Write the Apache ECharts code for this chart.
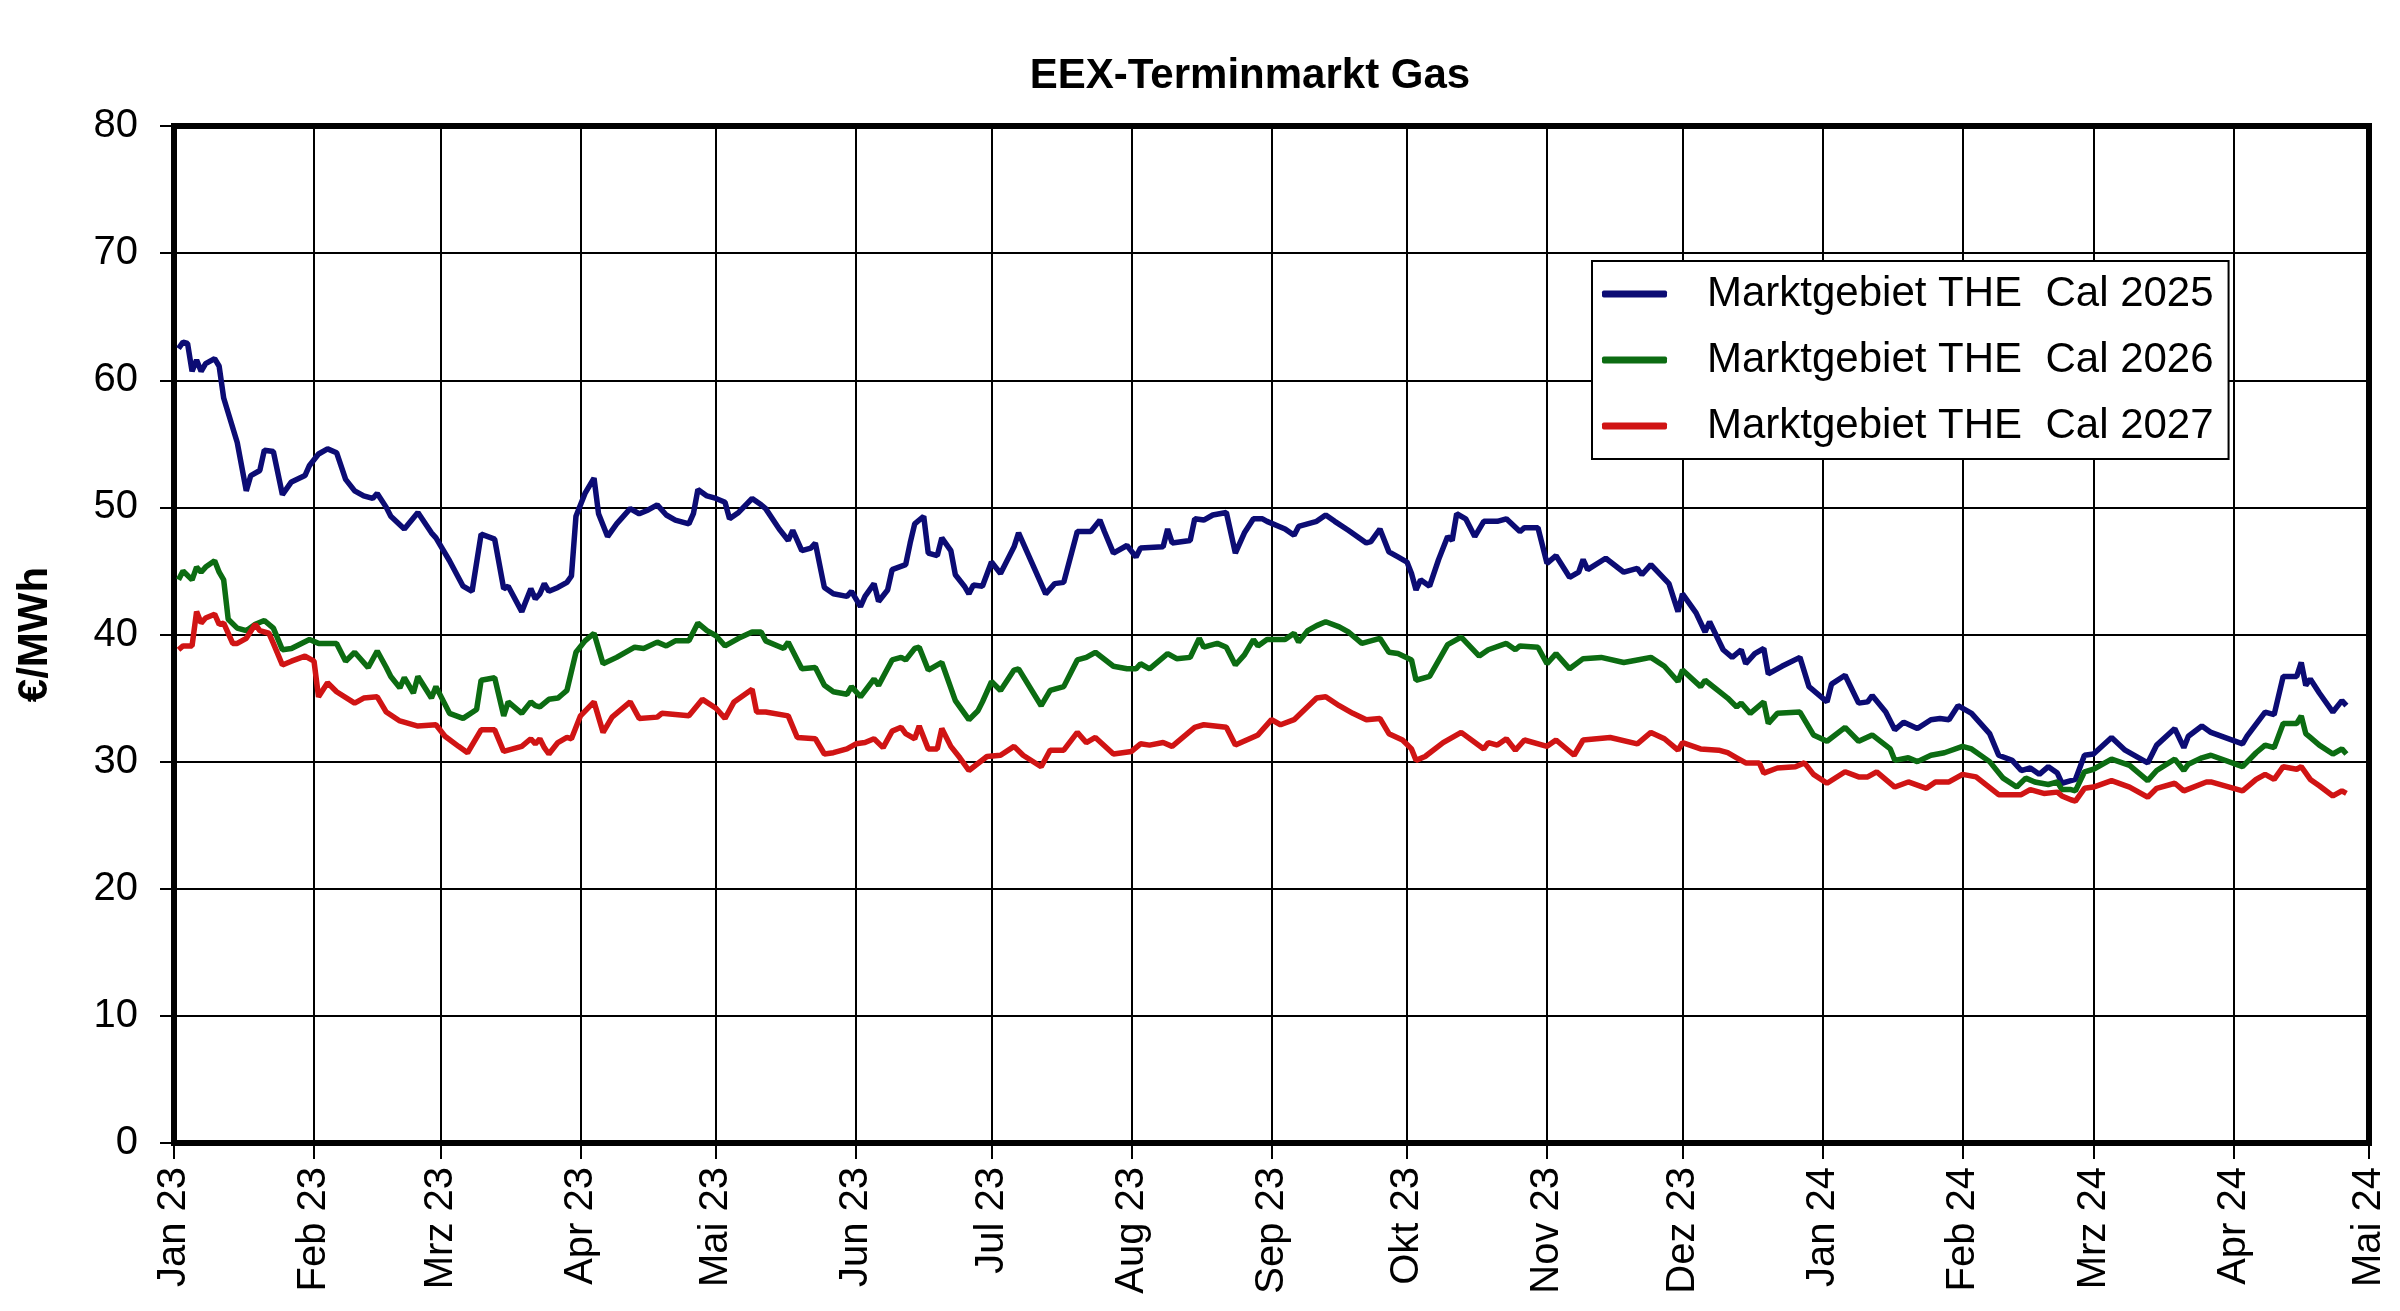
<!DOCTYPE html>
<html>
<head>
<meta charset="utf-8">
<title>EEX-Terminmarkt Gas</title>
<script src="https://cdn.jsdelivr.net/npm/echarts@6.0.0/dist/echarts.min.js"></script>
<style>
  html, body { margin: 0; padding: 0; background: #fff; }
  #chart { width: 2400px; height: 1311px; }
</style>
</head>
<body>
<div id="chart"></div>
<script>
// month names as printed on the x axis
var monthLabels = ['Jan', 'Feb', 'Mrz', 'Apr', 'Mai', 'Jun', 'Jul', 'Aug', 'Sep', 'Okt', 'Nov', 'Dez'];
var xStart = '2023-01-01';
var xEnd = '2024-05-01';
var yMin = 0, yMax = 80, yStep = 10;

var seriesNames = ['Marktgebiet THE  Cal 2025', 'Marktgebiet THE  Cal 2026', 'Marktgebiet THE  Cal 2027'];
var seriesColors = ['#0c0c74', '#0c6c12', '#d01414'];

// Cal 2025 (€/MWh)
var cal2025 = [
  ['2023-01-02',62.5],['2023-01-03',63.0],['2023-01-04',62.9],['2023-01-05',60.7],['2023-01-06',61.6],['2023-01-07',60.7],
  ['2023-01-08',61.3],['2023-01-10',61.7],['2023-01-11',61.1],['2023-01-12',58.6],['2023-01-15',55.1],['2023-01-17',51.3],
  ['2023-01-18',52.5],['2023-01-20',52.9],['2023-01-21',54.5],['2023-01-23',54.4],['2023-01-25',51.0],['2023-01-27',52.0],
  ['2023-01-30',52.5],['2023-01-31',53.3],['2023-02-02',54.2],['2023-02-04',54.6],['2023-02-06',54.3],['2023-02-08',52.2],
  ['2023-02-10',51.3],['2023-02-12',50.9],['2023-02-14',50.7],['2023-02-15',51.1],['2023-02-17',50.0],['2023-02-18',49.3],
  ['2023-02-21',48.3],['2023-02-24',49.6],['2023-02-27',48.0],['2023-02-28',47.6],['2023-03-03',45.8],['2023-03-06',43.8],
  ['2023-03-08',43.4],['2023-03-10',47.9],['2023-03-13',47.5],['2023-03-15',43.6],['2023-03-16',43.8],['2023-03-19',41.8],
  ['2023-03-21',43.6],['2023-03-22',42.8],['2023-03-23',43.2],['2023-03-24',44.0],['2023-03-25',43.4],['2023-03-27',43.7],
  ['2023-03-29',44.1],['2023-03-30',44.6],['2023-03-31',49.3],['2023-04-02',51.1],['2023-04-04',52.3],['2023-04-05',49.5],
  ['2023-04-07',47.7],['2023-04-09',48.7],['2023-04-12',49.9],['2023-04-14',49.5],['2023-04-16',49.8],['2023-04-18',50.2],
  ['2023-04-20',49.4],['2023-04-22',49.0],['2023-04-25',48.7],['2023-04-26',49.5],['2023-04-27',51.4],['2023-04-29',50.9],
  ['2023-05-01',50.7],['2023-05-03',50.4],['2023-05-04',49.1],['2023-05-06',49.6],['2023-05-09',50.7],['2023-05-11',50.2],
  ['2023-05-12',49.9],['2023-05-15',48.3],['2023-05-17',47.4],['2023-05-18',48.2],['2023-05-20',46.6],['2023-05-22',46.8],
  ['2023-05-23',47.2],['2023-05-25',43.7],['2023-05-27',43.2],['2023-05-30',43.0],['2023-05-31',43.4],['2023-06-02',42.2],
  ['2023-06-03',43.0],['2023-06-05',44.0],['2023-06-06',42.6],['2023-06-08',43.5],['2023-06-09',45.1],['2023-06-12',45.5],
  ['2023-06-13',47.2],['2023-06-14',48.7],['2023-06-16',49.3],['2023-06-17',46.4],['2023-06-19',46.2],['2023-06-20',47.6],
  ['2023-06-22',46.6],['2023-06-23',44.7],['2023-06-25',43.8],['2023-06-26',43.2],['2023-06-27',43.9],['2023-06-29',43.8],
  ['2023-07-01',45.7],['2023-07-03',44.8],['2023-07-06',46.9],['2023-07-07',48.0],['2023-07-10',45.6],['2023-07-13',43.2],
  ['2023-07-15',44.0],['2023-07-17',44.1],['2023-07-20',48.1],['2023-07-23',48.1],['2023-07-25',49.0],['2023-07-26',48.1],
  ['2023-07-28',46.4],['2023-07-31',47.0],['2023-08-02',46.1],['2023-08-03',46.8],['2023-08-08',46.9],['2023-08-09',48.3],
  ['2023-08-10',47.2],['2023-08-14',47.4],['2023-08-15',49.1],['2023-08-17',49.0],['2023-08-19',49.4],['2023-08-22',49.6],
  ['2023-08-24',46.4],['2023-08-26',48.0],['2023-08-28',49.1],['2023-08-30',49.1],['2023-08-31',48.9],['2023-09-04',48.3],
  ['2023-09-06',47.8],['2023-09-07',48.5],['2023-09-11',48.9],['2023-09-13',49.4],['2023-09-15',48.9],['2023-09-18',48.2],
  ['2023-09-22',47.2],['2023-09-23',47.3],['2023-09-25',48.3],['2023-09-27',46.5],['2023-09-29',46.1],['2023-10-01',45.7],
  ['2023-10-02',44.8],['2023-10-03',43.5],['2023-10-04',44.3],['2023-10-06',43.8],['2023-10-08',45.9],['2023-10-10',47.7],
  ['2023-10-11',47.4],['2023-10-12',49.5],['2023-10-14',49.1],['2023-10-16',47.7],['2023-10-18',48.9],['2023-10-21',48.9],
  ['2023-10-23',49.1],['2023-10-26',48.1],['2023-10-27',48.4],['2023-10-30',48.4],['2023-11-01',45.6],['2023-11-03',46.2],
  ['2023-11-06',44.5],['2023-11-08',44.9],['2023-11-09',45.9],['2023-11-10',45.1],['2023-11-14',46.0],['2023-11-18',44.9],
  ['2023-11-21',45.2],['2023-11-22',44.7],['2023-11-24',45.5],['2023-11-28',44.0],['2023-11-30',41.8],['2023-12-01',43.2],
  ['2023-12-04',41.7],['2023-12-06',40.2],['2023-12-07',41.0],['2023-12-10',38.8],['2023-12-12',38.2],['2023-12-14',38.8],
  ['2023-12-15',37.7],['2023-12-17',38.5],['2023-12-19',38.9],['2023-12-20',36.9],['2023-12-23',37.5],['2023-12-27',38.2],
  ['2023-12-29',35.9],['2024-01-02',34.7],['2024-01-03',36.1],['2024-01-06',36.8],['2024-01-09',34.6],['2024-01-11',34.7],
  ['2024-01-12',35.2],['2024-01-15',33.9],['2024-01-17',32.5],['2024-01-19',33.1],['2024-01-22',32.6],['2024-01-25',33.3],
  ['2024-01-27',33.4],['2024-01-29',33.3],['2024-01-31',34.4],['2024-02-03',33.8],['2024-02-07',32.2],['2024-02-09',30.5],
  ['2024-02-12',30.1],['2024-02-14',29.3],['2024-02-16',29.5],['2024-02-18',29.0],['2024-02-20',29.6],['2024-02-22',29.1],
  ['2024-02-23',28.3],['2024-02-25',28.5],['2024-02-26',28.6],['2024-02-28',30.5],['2024-03-01',30.6],['2024-03-05',31.9],
  ['2024-03-08',30.9],['2024-03-13',29.9],['2024-03-15',31.3],['2024-03-19',32.6],['2024-03-21',31.1],['2024-03-22',32.0],
  ['2024-03-25',32.8],['2024-03-27',32.3],['2024-04-03',31.4],['2024-04-04',32.0],['2024-04-08',33.9],['2024-04-10',33.7],
  ['2024-04-12',36.7],['2024-04-15',36.7],['2024-04-16',37.8],['2024-04-17',36.0],['2024-04-18',36.5],['2024-04-20',35.4],
  ['2024-04-23',33.9],['2024-04-25',34.8],['2024-04-26',34.4]
];

// Cal 2026
var cal2026 = [
  ['2023-01-02',44.3],['2023-01-03',45.0],['2023-01-05',44.3],['2023-01-06',45.3],['2023-01-07',44.9],['2023-01-08',45.3],
  ['2023-01-10',45.8],['2023-01-11',44.9],['2023-01-12',44.3],['2023-01-13',41.2],['2023-01-15',40.5],['2023-01-17',40.3],
  ['2023-01-19',40.8],['2023-01-21',41.1],['2023-01-23',40.5],['2023-01-25',38.8],['2023-01-27',38.9],['2023-01-31',39.6],
  ['2023-02-02',39.3],['2023-02-06',39.3],['2023-02-08',37.9],['2023-02-10',38.6],['2023-02-13',37.4],['2023-02-15',38.7],
  ['2023-02-17',37.4],['2023-02-18',36.7],['2023-02-20',35.8],['2023-02-21',36.6],['2023-02-23',35.4],['2023-02-24',36.7],
  ['2023-02-27',35.0],['2023-02-28',35.9],['2023-03-03',33.8],['2023-03-06',33.4],['2023-03-09',34.1],['2023-03-10',36.4],
  ['2023-03-13',36.6],['2023-03-15',33.6],['2023-03-16',34.7],['2023-03-19',33.8],['2023-03-21',34.7],['2023-03-22',34.4],
  ['2023-03-23',34.3],['2023-03-25',34.9],['2023-03-27',35.0],['2023-03-28',35.3],['2023-03-29',35.6],['2023-03-31',38.6],
  ['2023-04-02',39.5],['2023-04-04',40.1],['2023-04-06',37.7],['2023-04-09',38.2],['2023-04-13',39.0],['2023-04-15',38.9],
  ['2023-04-18',39.4],['2023-04-20',39.1],['2023-04-22',39.5],['2023-04-25',39.5],['2023-04-27',40.9],['2023-04-29',40.3],
  ['2023-05-01',39.9],['2023-05-03',39.1],['2023-05-06',39.7],['2023-05-09',40.2],['2023-05-11',40.2],['2023-05-12',39.5],
  ['2023-05-16',38.9],['2023-05-17',39.4],['2023-05-20',37.3],['2023-05-23',37.4],['2023-05-25',36.0],['2023-05-27',35.5],
  ['2023-05-30',35.3],['2023-05-31',35.9],['2023-06-02',35.1],['2023-06-05',36.5],['2023-06-06',36.0],['2023-06-09',38.0],
  ['2023-06-11',38.2],['2023-06-12',38.0],['2023-06-14',38.9],['2023-06-15',39.0],['2023-06-17',37.2],['2023-06-20',37.8],
  ['2023-06-23',34.8],['2023-06-26',33.3],['2023-06-28',34.0],['2023-06-29',34.7],['2023-07-01',36.3],['2023-07-03',35.6],
  ['2023-07-06',37.2],['2023-07-07',37.3],['2023-07-12',34.4],['2023-07-14',35.6],['2023-07-17',35.9],['2023-07-20',38.0],
  ['2023-07-22',38.2],['2023-07-24',38.6],['2023-07-28',37.5],['2023-07-31',37.3],['2023-08-02',37.3],['2023-08-03',37.7],
  ['2023-08-05',37.3],['2023-08-09',38.5],['2023-08-11',38.1],['2023-08-14',38.2],['2023-08-16',39.7],['2023-08-17',39.0],
  ['2023-08-20',39.3],['2023-08-22',39.0],['2023-08-24',37.6],['2023-08-26',38.4],['2023-08-28',39.6],['2023-08-29',39.1],
  ['2023-08-31',39.6],['2023-09-04',39.6],['2023-09-06',40.1],['2023-09-07',39.4],['2023-09-09',40.3],['2023-09-11',40.7],
  ['2023-09-13',41.0],['2023-09-16',40.6],['2023-09-18',40.2],['2023-09-21',39.3],['2023-09-25',39.7],['2023-09-27',38.6],
  ['2023-09-29',38.5],['2023-10-02',38.0],['2023-10-03',36.4],['2023-10-06',36.7],['2023-10-10',39.2],['2023-10-13',39.8],
  ['2023-10-17',38.3],['2023-10-19',38.8],['2023-10-23',39.3],['2023-10-25',38.8],['2023-10-26',39.1],['2023-10-30',39.0],
  ['2023-11-01',37.7],['2023-11-03',38.5],['2023-11-06',37.3],['2023-11-09',38.1],['2023-11-13',38.2],['2023-11-18',37.8],
  ['2023-11-21',38.0],['2023-11-24',38.2],['2023-11-27',37.5],['2023-11-30',36.3],['2023-12-01',37.2],['2023-12-05',35.9],
  ['2023-12-06',36.4],['2023-12-11',35.0],['2023-12-13',34.3],['2023-12-14',34.6],['2023-12-16',33.8],['2023-12-19',34.7],
  ['2023-12-20',33.0],['2023-12-22',33.8],['2023-12-27',33.9],['2023-12-30',32.1],['2024-01-02',31.6],['2024-01-06',32.7],
  ['2024-01-09',31.6],['2024-01-12',32.1],['2024-01-16',31.0],['2024-01-17',30.1],['2024-01-20',30.3],['2024-01-22',30.0],
  ['2024-01-25',30.5],['2024-01-28',30.7],['2024-02-01',31.2],['2024-02-03',31.0],['2024-02-07',30.0],['2024-02-10',28.7],
  ['2024-02-13',28.0],['2024-02-15',28.7],['2024-02-17',28.4],['2024-02-20',28.2],['2024-02-22',28.4],['2024-02-23',27.8],
  ['2024-02-25',27.8],['2024-02-26',27.7],['2024-02-28',29.2],['2024-03-01',29.4],['2024-03-05',30.2],['2024-03-09',29.7],
  ['2024-03-13',28.5],['2024-03-15',29.3],['2024-03-19',30.2],['2024-03-21',29.3],['2024-03-22',29.8],['2024-03-25',30.3],
  ['2024-03-27',30.5],['2024-04-03',29.6],['2024-04-06',30.7],['2024-04-08',31.3],['2024-04-10',31.1],['2024-04-12',33.0],
  ['2024-04-15',33.0],['2024-04-16',33.6],['2024-04-17',32.2],['2024-04-18',31.9],['2024-04-20',31.3],['2024-04-23',30.6],
  ['2024-04-25',31.0],['2024-04-26',30.6]
];

// Cal 2027
var cal2027 = [
  ['2023-01-02',38.8],['2023-01-03',39.1],['2023-01-05',39.1],['2023-01-06',41.8],['2023-01-07',40.9],['2023-01-08',41.3],
  ['2023-01-10',41.6],['2023-01-11',40.8],['2023-01-12',40.9],['2023-01-14',39.3],['2023-01-15',39.3],['2023-01-17',39.7],
  ['2023-01-19',40.8],['2023-01-20',40.3],['2023-01-22',40.1],['2023-01-23',39.3],['2023-01-25',37.6],['2023-01-27',37.9],
  ['2023-01-30',38.3],['2023-02-01',37.9],['2023-02-02',35.1],['2023-02-04',36.2],['2023-02-06',35.5],['2023-02-10',34.6],
  ['2023-02-12',35.0],['2023-02-15',35.1],['2023-02-17',33.9],['2023-02-20',33.2],['2023-02-24',32.8],['2023-02-28',32.9],
  ['2023-03-02',32.0],['2023-03-05',31.2],['2023-03-07',30.7],['2023-03-10',32.5],['2023-03-13',32.5],['2023-03-15',30.8],
  ['2023-03-19',31.2],['2023-03-21',31.8],['2023-03-22',31.4],['2023-03-23',31.8],['2023-03-24',31.1],['2023-03-25',30.6],
  ['2023-03-27',31.5],['2023-03-29',31.9],['2023-03-30',31.8],['2023-04-01',33.6],['2023-04-04',34.7],['2023-04-06',32.3],
  ['2023-04-08',33.5],['2023-04-12',34.7],['2023-04-14',33.4],['2023-04-18',33.5],['2023-04-19',33.8],['2023-04-25',33.6],
  ['2023-04-28',34.9],['2023-05-01',34.2],['2023-05-03',33.4],['2023-05-05',34.7],['2023-05-09',35.7],['2023-05-10',33.9],
  ['2023-05-12',33.9],['2023-05-17',33.6],['2023-05-19',31.9],['2023-05-23',31.8],['2023-05-25',30.6],['2023-05-27',30.7],
  ['2023-05-30',31.0],['2023-06-01',31.4],['2023-06-03',31.5],['2023-06-05',31.8],['2023-06-07',31.1],['2023-06-09',32.4],
  ['2023-06-11',32.7],['2023-06-12',32.2],['2023-06-14',31.8],['2023-06-15',32.8],['2023-06-17',31.0],['2023-06-19',31.0],
  ['2023-06-20',32.6],['2023-06-22',31.2],['2023-06-24',30.3],['2023-06-26',29.3],['2023-06-30',30.4],['2023-07-03',30.5],
  ['2023-07-06',31.2],['2023-07-08',30.5],['2023-07-12',29.6],['2023-07-14',30.9],['2023-07-17',30.9],['2023-07-20',32.3],
  ['2023-07-22',31.5],['2023-07-24',31.9],['2023-07-28',30.6],['2023-08-01',30.8],['2023-08-03',31.4],['2023-08-05',31.3],
  ['2023-08-08',31.5],['2023-08-10',31.2],['2023-08-15',32.7],['2023-08-17',32.9],['2023-08-22',32.7],['2023-08-24',31.3],
  ['2023-08-29',32.1],['2023-09-01',33.3],['2023-09-03',32.9],['2023-09-06',33.3],['2023-09-11',35.0],['2023-09-13',35.1],
  ['2023-09-16',34.4],['2023-09-19',33.8],['2023-09-22',33.3],['2023-09-25',33.4],['2023-09-27',32.2],['2023-09-30',31.7],
  ['2023-10-02',31.0],['2023-10-03',30.1],['2023-10-05',30.4],['2023-10-09',31.5],['2023-10-13',32.3],['2023-10-18',31.0],
  ['2023-10-19',31.5],['2023-10-21',31.3],['2023-10-23',31.8],['2023-10-25',30.9],['2023-10-27',31.7],['2023-11-01',31.2],
  ['2023-11-03',31.7],['2023-11-07',30.5],['2023-11-09',31.7],['2023-11-15',31.9],['2023-11-21',31.4],['2023-11-24',32.3],
  ['2023-11-27',31.8],['2023-11-30',30.9],['2023-12-01',31.5],['2023-12-05',31.0],['2023-12-09',30.9],['2023-12-11',30.7],
  ['2023-12-13',30.3],['2023-12-15',29.9],['2023-12-18',29.9],['2023-12-19',29.1],['2023-12-22',29.5],['2023-12-26',29.6],
  ['2023-12-28',29.9],['2023-12-30',29.0],['2024-01-02',28.3],['2024-01-06',29.2],['2024-01-09',28.8],['2024-01-11',28.8],
  ['2024-01-13',29.2],['2024-01-17',28.0],['2024-01-20',28.4],['2024-01-24',27.9],['2024-01-26',28.4],['2024-01-29',28.4],
  ['2024-02-01',29.0],['2024-02-04',28.8],['2024-02-09',27.4],['2024-02-14',27.4],['2024-02-16',27.8],['2024-02-19',27.5],
  ['2024-02-22',27.6],['2024-02-23',27.3],['2024-02-25',27.0],['2024-02-26',26.9],['2024-02-28',27.9],['2024-03-01',28.0],
  ['2024-03-05',28.5],['2024-03-09',28.0],['2024-03-13',27.2],['2024-03-15',27.9],['2024-03-19',28.3],['2024-03-21',27.7],
  ['2024-03-26',28.4],['2024-03-27',28.4],['2024-04-03',27.7],['2024-04-06',28.6],['2024-04-08',29.0],['2024-04-10',28.6],
  ['2024-04-12',29.6],['2024-04-15',29.4],['2024-04-16',29.6],['2024-04-18',28.6],['2024-04-20',28.1],['2024-04-23',27.3],
  ['2024-04-25',27.7],['2024-04-26',27.5]
];

var font = '"Liberation Sans", Arial, sans-serif';
var DAY = 24 * 3600 * 1000;

function monthLabel(value) {
  var d = new Date(value);
  return monthLabels[d.getMonth()] + ' ' + String(d.getFullYear()).slice(2);
}

var chart = echarts.init(document.getElementById('chart'));

var seriesData = [cal2025, cal2026, cal2027];
var series = seriesData.map(function (data, i) {
  return {
    name: seriesNames[i],
    type: 'line',
    data: data,
    symbol: 'none',
    showSymbol: false,
    color: seriesColors[i],
    lineStyle: {width: 5.5, color: seriesColors[i]}
  };
});

var option = {
  animation: false,
  backgroundColor: '#fff',
  title: {
    text: 'EEX-Terminmarkt Gas',
    left: 1245,
    top: 50,
    textAlign: 'center',
    textStyle: {fontFamily: font, fontSize: 42, fontWeight: 'bold', color: '#000'}
  },
  legend: {
    orient: 'vertical',
    left: 1592,
    top: 261,
    data: seriesNames,
    icon: 'roundRect',
    backgroundColor: '#fff',
    borderColor: '#000',
    borderWidth: 2,
    borderRadius: 0,
    padding: [8, 15, 8, 10],
    itemWidth: 65,
    itemHeight: 7,
    itemGap: 16,
    textStyle: {fontFamily: font, fontSize: 42, color: '#000', lineHeight: 50, padding: [0, 0, 0, 35]}
  },
  grid: {
    left: 174,
    right: 31,
    top: 126,
    bottom: 168,
    show: true,
    borderColor: '#000',
    borderWidth: 6,
    containLabel: false
  },
  xAxis: {
    type: 'time',
    min: xStart,
    max: xEnd,
    minInterval: 28 * DAY,
    maxInterval: 31 * DAY,
    axisLine: {show: true, lineStyle: {color: '#000', width: 6}},
    axisTick: {show: true, length: 16, lineStyle: {color: '#000', width: 2}},
    splitLine: {show: true, lineStyle: {color: '#000', width: 2}},
    axisLabel: {
      rotate: 90,
      margin: 24,
      fontFamily: font,
      fontSize: 40,
      color: '#000',
      showMinLabel: true,
      showMaxLabel: true,
      hideOverlap: false,
      formatter: monthLabel
    }
  },
  yAxis: {
    type: 'value',
    min: yMin,
    max: yMax,
    interval: yStep,
    name: '€/MWh',
    nameLocation: 'middle',
    nameGap: 118,
    nameTextStyle: {fontFamily: font, fontSize: 42, fontWeight: 'bold', color: '#000'},
    axisLine: {show: true, lineStyle: {color: '#000', width: 6}},
    axisTick: {show: true, length: 14, lineStyle: {color: '#000', width: 2}},
    splitLine: {show: true, lineStyle: {color: '#000', width: 2}},
    axisLabel: {margin: 36, fontFamily: font, fontSize: 40, color: '#000'}
  },
  series: series
};

chart.setOption(option);
window.onresize = chart.resize;
</script>
</body>
</html>
